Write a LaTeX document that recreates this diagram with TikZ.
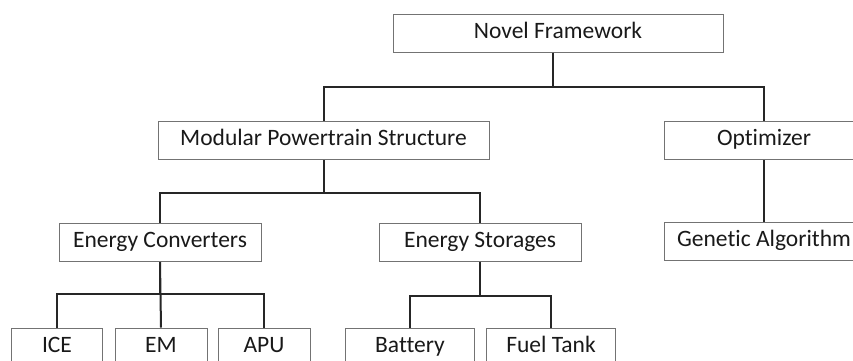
\documentclass[tikz,border=0pt]{standalone}
\usepackage{fontspec}
\setmainfont[Ligatures=NoCommon]{Carlito}
\usepackage{tikz}
\usepackage{xcolor}

\begin{document}
\begin{tikzpicture} %Arbol del framework
  [
    x=1pt, y=-1pt,
    % Estilo de las cajas y de las lineas
    caja/.style={draw=black!55, line width=1pt, minimum height=38pt, inner sep=0pt,
      font=\fontsize{23.5}{27}\selectfont, text=black!90,
      text height=15pt, text depth=4.5pt},
    rama/.style={line width=2pt, draw=black!85}
  ]
  \useasboundingbox (0,0) rectangle (853,360);
  \clip (0,0) rectangle (853,360);
  \node[caja, minimum width=330pt] (nf) at (558,33) {Novel Framework};
  \node[caja, minimum width=331pt] (mps) at (323.5,140.5) {Modular Powertrain Structure};
  \node[caja, minimum width=200pt] (opt) at (764,140.5) {Optimizer};
  \node[caja, minimum width=202pt] (ec) at (160,242.5) {Energy Converters};
  \node[caja, minimum width=202pt] (es) at (480,242) {Energy Storages};
  \node[caja, minimum width=200pt] (ga) at (764,241.5) {Genetic Algorithm};
  \node[caja, minimum width=91pt] (ice) at (57,347) {ICE};
  \node[caja, minimum width=92pt] (em) at (161,347) {EM};
  \node[caja, minimum width=92pt] (apu) at (264,347) {APU};
  \node[caja, minimum width=129pt] (bat) at (410,347) {Battery};
  \node[caja, minimum width=129pt] (ft) at (551,347) {Fuel Tank};
  \draw[rama] ([xshift=-5pt]nf.south) -- ++(0,34) -| (mps.north);
  \draw[rama] ([xshift=-5pt]nf.south) -- ++(0,34) -| (opt.north);
  \draw[rama] (mps.south) -- ++(0,33) -| (ec.north);
  \draw[rama] (mps.south) -- ++(0,33) -| (es.north);
  \draw[rama] (opt.south) -- (ga.north);
  \draw[rama] (ec.south) -- ++(0,32) -| (ice.north);
  \draw[rama] (ec.south) -- (em.north);
  \draw[rama] (ec.south) -- ++(0,32) -| (apu.north);
  \draw[rama] (es.south) -- ++(0,34) -| (bat.north);
  \draw[rama] (es.south) -- ++(0,34) -| (ft.north);

\end{tikzpicture}
\end{document}
